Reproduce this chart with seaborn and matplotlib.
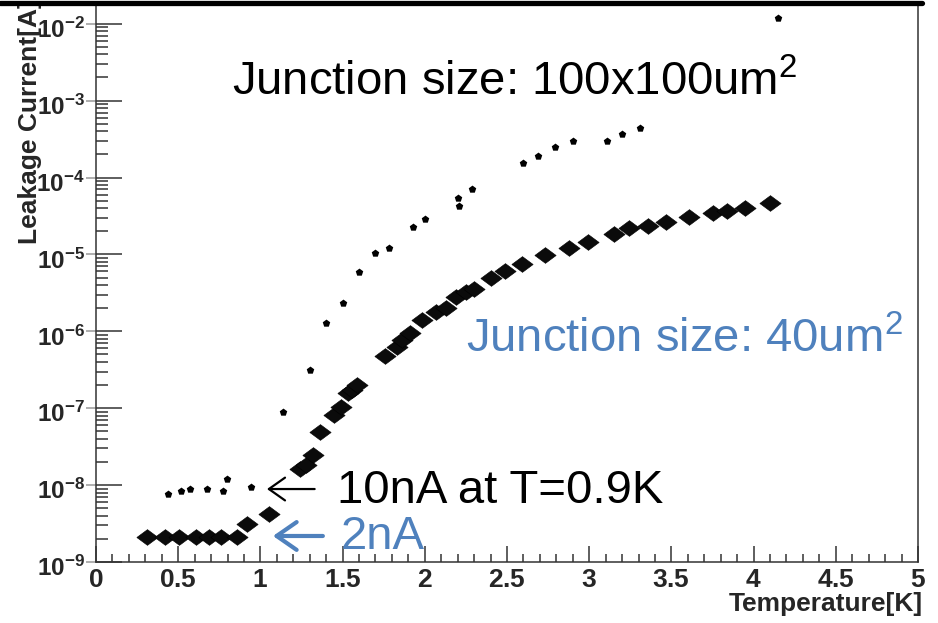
import numpy as np
import pandas as pd
import matplotlib
matplotlib.use("Agg")
import matplotlib.pyplot as plt
import seaborn as sns
from matplotlib.ticker import LogLocator, MultipleLocator, FuncFormatter, NullLocator
from matplotlib.lines import Line2D
from matplotlib.transforms import ScaledTranslation

# ---------------- data ----------------
temp_100x100 = [0.44, 0.52, 0.57, 0.675, 0.77, 0.795, 0.94, 1.14, 1.30, 1.40,
                1.50, 1.60, 1.70, 1.78, 1.93, 2.00, 2.20, 2.21, 2.29, 2.60,
                2.69, 2.79, 2.90, 3.11, 3.20, 3.31, 4.15]
leak_100x100 = [7.7e-9, 8.4e-9, 8.9e-9, 8.9e-9, 8.4e-9, 1.2e-8, 9.4e-9, 8.9e-8, 3.1e-7, 1.3e-6,
                2.3e-6, 5.9e-6, 1.05e-5, 1.2e-5, 2.3e-5, 2.9e-5, 5.4e-5, 4.2e-5, 7.1e-5, 1.55e-4,
                1.9e-4, 2.5e-4, 3.0e-4, 3.0e-4, 3.7e-4, 4.4e-4, 1.2e-2]

temp_40 = [0.31, 0.42, 0.505, 0.61, 0.69, 0.76, 0.86,
           0.92, 1.05,
           1.24, 1.28, 1.32, 1.36, 1.45, 1.49, 1.53, 1.56, 1.59,
           1.76, 1.83, 1.86, 1.91, 1.98,
           2.07, 2.13, 2.19, 2.25, 2.30,
           2.40, 2.49, 2.59, 2.73, 2.88, 2.99,
           3.15, 3.24, 3.36, 3.47,
           3.61, 3.75, 3.84, 3.95, 4.10]
leak_40 = [2.1e-9, 2.1e-9, 2.1e-9, 2.1e-9, 2.1e-9, 2.1e-9, 2.1e-9,
           3.1e-9, 4.2e-9,
           1.6e-8, 1.8e-8, 2.45e-8, 4.9e-8, 8.2e-8, 1.04e-7, 1.6e-7, 1.7e-7, 2.0e-7,
           4.8e-7, 6.3e-7, 7.8e-7, 9.5e-7, 1.4e-6,
           1.8e-6, 2.0e-6, 2.8e-6, 3.2e-6, 3.6e-6,
           4.9e-6, 6.0e-6, 7.5e-6, 9.8e-6, 1.2e-5, 1.45e-5,
           1.85e-5, 2.2e-5, 2.35e-5, 2.65e-5,
           3.1e-5, 3.5e-5, 3.65e-5, 4.0e-5, 4.65e-5]

x_ticks = [0, 0.5, 1, 1.5, 2, 2.5, 3, 3.5, 4, 4.5, 5]
x_label = "Temperature[K]"
y_label = "Leakage Current[A]"
label_100 = "Junction size: 100x100um$^{2}$"
label_40 = "Junction size: 40um$^{2}$"
note_10nA = "10nA at T=0.9K"
note_2nA = "2nA"

BLUE = "#4F81BD"

# ---------------- style ----------------
sns.set_style("ticks")
plt.rcParams["font.family"] = ["Liberation Sans", "DejaVu Sans"]
plt.rcParams["mathtext.fontset"] = "custom"
plt.rcParams["mathtext.rm"] = "Liberation Sans"
plt.rcParams["mathtext.bf"] = "Liberation Sans:bold"
plt.rcParams["mathtext.it"] = "Liberation Sans:italic"

fig = plt.figure(figsize=(9.38, 6.23), dpi=100)
W, H = 938, 623
ax = fig.add_axes([96 / W, 1 - 562 / H, 822 / W, (562 - 5) / H])

df_a = pd.DataFrame({"T": temp_100x100, "I": leak_100x100})
df_b = pd.DataFrame({"T": temp_40, "I": leak_40})

sns.scatterplot(data=df_a, x="T", y="I", marker="p", s=32, color="black",
                edgecolor="black", linewidth=0, ax=ax, legend=False, zorder=3)
diamond = [(-1, 0), (0, 0.74), (1, 0), (0, -0.74), (-1, 0)]
sns.scatterplot(data=df_b, x="T", y="I", marker=diamond, s=235, color="#0b0b0b",
                edgecolor="black", linewidth=0.4, ax=ax, legend=False, zorder=3)

ax.set_yscale("log")
ax.set_xlim(0, 5)
ax.set_ylim(1e-9, 10 ** (-9 + 557 / 76.9))

ax.xaxis.set_major_locator(plt.FixedLocator(x_ticks))
ax.xaxis.set_minor_locator(MultipleLocator(0.1))
ax.xaxis.set_major_formatter(FuncFormatter(lambda v, p: r"$\mathbf{%s}$" % ("%g" % v)))
ax.yaxis.set_major_locator(LogLocator(base=10, numticks=20))
ax.yaxis.set_minor_locator(LogLocator(base=10, subs=np.arange(2, 10), numticks=20))
ax.yaxis.set_major_formatter(FuncFormatter(
    lambda v, p: r"$\mathbf{10^{%d}}$" % int(round(np.log10(v)))))

tc = "#333333"
ax.tick_params(axis="y", which="major", direction="in", length=18.5, width=1.1,
               color=tc, labelsize=17.5, pad=8, right=False)
ax.tick_params(axis="y", which="minor", direction="in", length=8.6, width=1.1,
               color=tc, right=False)
ax.tick_params(axis="x", which="major", direction="in", length=11.5, width=1.1,
               color=tc, labelsize=19, pad=4, top=False)
ax.tick_params(axis="x", which="minor", direction="in", length=5.8, width=1.1,
               color=tc, top=False)

# gray outside stubs at major y ticks
ax2 = ax.secondary_yaxis("left")
ax2.yaxis.set_major_locator(LogLocator(base=10, numticks=20))
ax2.yaxis.set_minor_locator(NullLocator())
ax2.tick_params(which="major", direction="out", length=7.5, width=1.1,
                color="#999999", labelleft=False)
ax2.spines["left"].set_visible(False)
ax2.xaxis.set_visible(False)

for s in ["left", "bottom", "right"]:
    ax.spines[s].set_color(tc)
    ax.spines[s].set_linewidth(1.1)
ax.spines["top"].set_visible(False)

# thick bar at the very top
fig.add_artist(Line2D([0, 922 / W], [1 - 2.5 / H] * 2, transform=fig.transFigure,
                      color="black", lw=3.8))

ax.set_xlabel(x_label, loc="right", fontsize=19, fontweight="bold")
ax.xaxis.set_label_coords(1.006, -0.053)
ax.set_ylabel(y_label, loc="top", fontsize=19, fontweight="bold")
ax.yaxis.set_label_coords(-0.066, 1.01)

# annotations
ax.text(0.1655, 0.838, label_100, transform=ax.transAxes, fontsize=34,
        color="black", ha="left", va="baseline")
ax.text(0.450, 0.377, label_40, transform=ax.transAxes, fontsize=34,
        color=BLUE, ha="left", va="baseline")
ax.text(0.293, 0.106, note_10nA, transform=ax.transAxes, fontsize=34,
        color="black", ha="left", va="baseline")
ax.text(0.297, 0.0233, note_2nA, transform=ax.transAxes, fontsize=34,
        color=BLUE, ha="left", va="baseline")

ax.annotate("", xy=(0.208, 0.131), xytext=(0.266, 0.131),
            xycoords="axes fraction", textcoords="axes fraction",
            arrowprops=dict(arrowstyle="->,head_length=0.58,head_width=0.41",
                            mutation_scale=20, lw=1.6, color="black",
                            shrinkA=0, shrinkB=0))
ax.annotate("", xy=(0.2153, 0.0467), xytext=(0.276, 0.0467),
            xycoords="axes fraction", textcoords="axes fraction",
            arrowprops=dict(arrowstyle="->,head_length=0.72,head_width=0.5",
                            mutation_scale=20, lw=3.0, color=BLUE,
                            shrinkA=0, shrinkB=0))

# shift y tick labels slightly down (as in the reference)
fig.canvas.draw()
shift = ScaledTranslation(0, -4 / 100, fig.dpi_scale_trans)
for tick in ax.yaxis.get_major_ticks():
    tick.label1.set_transform(tick.label1.get_transform() + shift)

fig.savefig("out.png", dpi=100)
